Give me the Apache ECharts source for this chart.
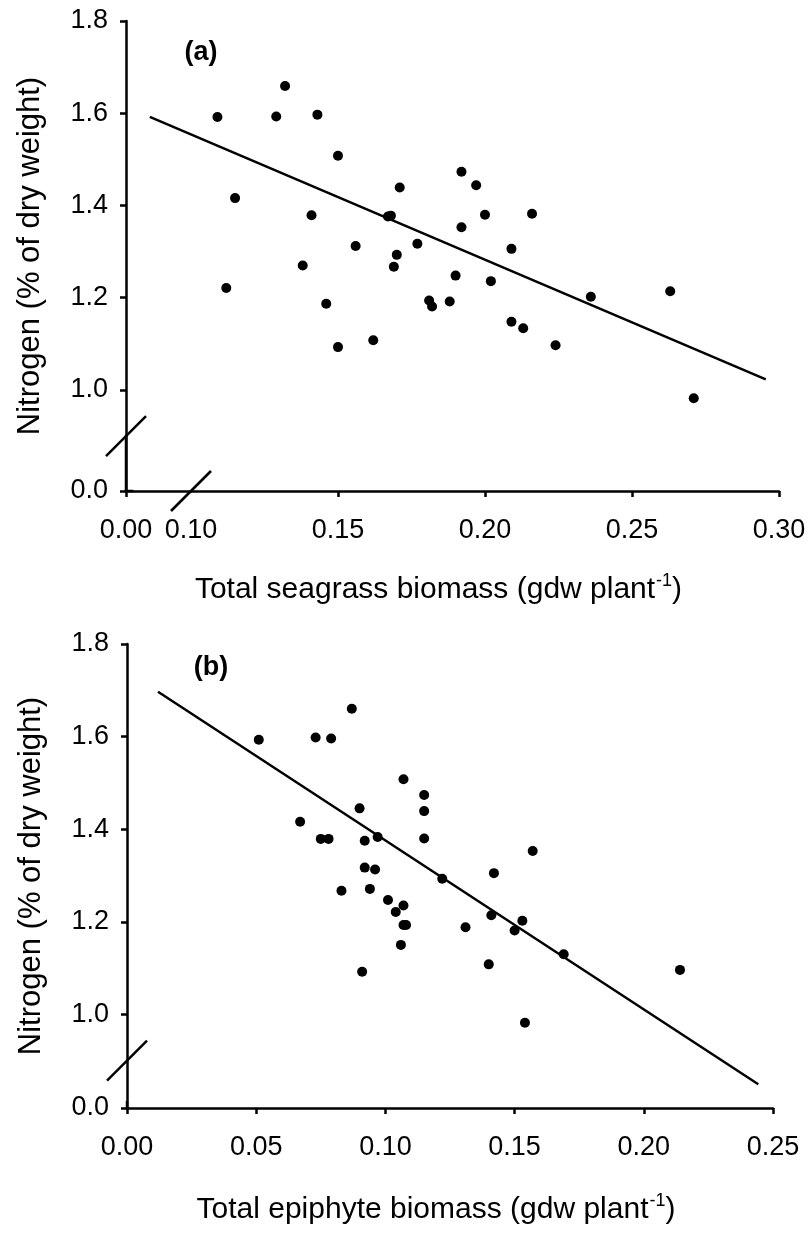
<!DOCTYPE html>
<html>
<head>
<meta charset="utf-8">
<script src="https://cdn.jsdelivr.net/npm/echarts@6.0.0/dist/echarts.min.js"></script>
<style>
  html, body { margin: 0; padding: 0; background: #ffffff; }
  #chart { width: 809px; height: 1233px; }
</style>
</head>
<body>
<div id="chart"></div>
<script>
// (a) Leaf nitrogen against total seagrass biomass
const seagrassBiomass = [
  0.109, 0.132, 0.129, 0.143, 0.150, 0.115, 0.141, 0.156, 0.138, 0.112,
  0.146, 0.167, 0.168, 0.171, 0.169, 0.170, 0.177, 0.192, 0.197, 0.200,
  0.216, 0.192, 0.209, 0.190, 0.202, 0.181, 0.182, 0.188, 0.236, 0.263,
  0.209, 0.213, 0.224, 0.271, 0.150, 0.162
];
const seagrassNitrogen = [
  1.592, 1.659, 1.593, 1.597, 1.508, 1.416, 1.379, 1.312, 1.270, 1.221,
  1.187, 1.376, 1.378, 1.439, 1.267, 1.293, 1.317, 1.473, 1.444, 1.380,
  1.382, 1.353, 1.306, 1.248, 1.236, 1.194, 1.181, 1.192, 1.202, 1.214,
  1.148, 1.134, 1.097, 0.982, 1.093, 1.108
];
const seagrassFitX = [0.086, 0.2955];
const seagrassFitY = [1.592, 1.023];

// (b) Leaf nitrogen against total epiphyte biomass
const epiphyteBiomass = [
  0.051, 0.087, 0.073, 0.079, 0.107, 0.090, 0.067, 0.075, 0.078, 0.092,
  0.097, 0.092, 0.096, 0.083, 0.094, 0.101, 0.107, 0.104, 0.107, 0.108,
  0.106, 0.115, 0.115, 0.115, 0.157, 0.122, 0.142, 0.131, 0.141, 0.153,
  0.150, 0.091, 0.140, 0.169, 0.214, 0.154
];
const epiphyteNitrogen = [
  1.593, 1.660, 1.598, 1.596, 1.508, 1.445, 1.416, 1.379, 1.379, 1.375,
  1.383, 1.317, 1.313, 1.267, 1.271, 1.247, 1.235, 1.221, 1.193, 1.193,
  1.150, 1.474, 1.439, 1.380, 1.353, 1.293, 1.305, 1.188, 1.214, 1.202,
  1.181, 1.092, 1.108, 1.130, 1.096, 0.982
];
const epiphyteFitX = [0.012, 0.2443];
const epiphyteFitY = [1.697, 0.849];

// Tick positions and labels
const seagrassTicks = [0, 0.15, 0.20, 0.25, 0.30];
const seagrassLabels = [0, 0.10, 0.15, 0.20, 0.25, 0.30];
const epiphyteTicks = [0, 0.05, 0.10, 0.15, 0.20, 0.25];
const nitrogenTicks = [0, 1.0, 1.2, 1.4, 1.6, 1.8];

const FONT = 'Liberation Sans, Arial, sans-serif';
const zip = (xs, ys) => xs.map((x, i) => [x, ys[i]]);

const axisLineStyle = { show: true, breakLine: false, lineStyle: { color: '#000', width: 2.5 } };
const tickStyle = { show: true, length: 6, lineStyle: { color: '#000', width: 2.5 } };
const labelBase = { color: '#000', fontFamily: FONT, fontSize: 27 };

function xName(text) {
  return '{t|' + text + '}{s|-1}{t|)}';
}
const xNameStyle = {
  color: '#000',
  fontFamily: FONT,
  padding: [0, 28, 0, 0],
  rich: {
    t: { fontSize: 30, fontFamily: FONT, color: '#000', lineHeight: 35 },
    s: { fontSize: 18, fontFamily: FONT, color: '#000', verticalAlign: 'top', lineHeight: 35, padding: [0, 0, 0, 1] }
  }
};
const yNameStyle = { color: '#000', fontFamily: FONT, fontSize: 31 };

function yAxisFor(gridIndex, brk) {
  return {
    type: 'value',
    gridIndex: gridIndex,
    min: 0,
    max: 1.8,
    breaks: [brk],
    breakArea: { show: false, expandOnClick: false },
    name: 'Nitrogen (% of dry weight)',
    nameLocation: 'middle',
    nameGap: 80,
    nameTextStyle: yNameStyle,
    axisLine: axisLineStyle,
    axisTick: Object.assign({ customValues: nitrogenTicks }, tickStyle),
    axisLabel: Object.assign({
      customValues: nitrogenTicks,
      margin: 18,
      formatter: v => v.toFixed(1)
    }, labelBase),
    splitLine: { show: false }
  };
}

const chart = echarts.init(document.getElementById('chart'), null, { renderer: 'canvas' });

chart.setOption({
  backgroundColor: '#ffffff',
  animation: false,
  grid: [
    { left: 126, top: 21, width: 653, height: 470 },
    { left: 127, top: 644, width: 646, height: 464 }
  ],
  xAxis: [
    {
      type: 'value',
      gridIndex: 0,
      min: 0,
      max: 0.30,
      breaks: [{ start: 0, end: 0.08, gap: 0.0021 }],
      breakArea: { show: false, expandOnClick: false },
      name: xName('Total seagrass biomass (gdw plant'),
      nameLocation: 'middle',
      nameGap: 81,
      nameTextStyle: xNameStyle,
      axisLine: axisLineStyle,
      axisTick: Object.assign({ customValues: seagrassTicks }, tickStyle),
      axisLabel: Object.assign({
        customValues: seagrassLabels,
        margin: 26,
        formatter: v => v.toFixed(2)
      }, labelBase),
      splitLine: { show: false }
    },
    {
      type: 'value',
      gridIndex: 1,
      min: 0,
      max: 0.25,
      name: xName('Total epiphyte biomass (gdw plant'),
      nameLocation: 'middle',
      nameGap: 84,
      nameTextStyle: xNameStyle,
      axisLine: axisLineStyle,
      axisTick: Object.assign({ customValues: epiphyteTicks }, tickStyle),
      axisLabel: Object.assign({
        customValues: epiphyteTicks,
        margin: 26,
        formatter: v => v.toFixed(2)
      }, labelBase),
      splitLine: { show: false }
    }
  ],
  yAxis: [
    yAxisFor(0, { start: 0, end: 0.9, gap: 0.119 }),
    yAxisFor(1, { start: 0, end: 0.81, gap: 0.0123 })
  ],
  series: [
    {
      type: 'scatter',
      xAxisIndex: 0, yAxisIndex: 0,
      data: zip(seagrassBiomass, seagrassNitrogen),
      symbol: 'circle', symbolSize: 10,
      itemStyle: { color: '#000', opacity: 1 }
    },
    {
      type: 'line',
      xAxisIndex: 0, yAxisIndex: 0,
      data: zip(seagrassFitX, seagrassFitY),
      showSymbol: false, symbol: 'none',
      lineStyle: { color: '#000', width: 2.5 }
    },
    {
      type: 'scatter',
      xAxisIndex: 1, yAxisIndex: 1,
      data: zip(epiphyteBiomass, epiphyteNitrogen),
      symbol: 'circle', symbolSize: 10,
      itemStyle: { color: '#000', opacity: 1 }
    },
    {
      type: 'line',
      xAxisIndex: 1, yAxisIndex: 1,
      data: zip(epiphyteFitX, epiphyteFitY),
      showSymbol: false, symbol: 'none',
      lineStyle: { color: '#000', width: 2.5 }
    }
  ]
});

// Slash marks on the broken axes, and the axis line carried through each break
function px(gridIndex, value) {
  return chart.convertToPixel({ gridIndex: gridIndex }, value);
}
function slash(gridIndex, value, half) {
  const p = px(gridIndex, value);
  return {
    type: 'line',
    shape: { x1: p[0] - half, y1: p[1] + half, x2: p[0] + half, y2: p[1] - half },
    style: { stroke: '#000', lineWidth: 2.5 },
    z: 100
  };
}
function bridge(gridIndex, from, to) {
  const a = px(gridIndex, from);
  const b = px(gridIndex, to);
  return {
    type: 'line',
    shape: { x1: a[0], y1: a[1], x2: b[0], y2: b[1] },
    style: { stroke: '#000', lineWidth: 2.5, lineCap: 'square' },
    z: 90
  };
}
const letterStyle = { fill: '#000', font: 'bold 27px ' + FONT, textAlign: 'center', textVerticalAlign: 'middle' };

chart.setOption({
  graphic: [
    bridge(0, [0, 0], [0, 0.9]),
    bridge(0, [0, 0], [0.08, 0]),
    bridge(1, [0, 0], [0, 0.81]),
    slash(0, [0, 0.9], 20),
    slash(0, [0.10, 0], 20),
    slash(1, [0, 0.9], 20),
    { type: 'text', x: 201, y: 53, style: Object.assign({ text: '(a)' }, letterStyle), z: 100 },
    { type: 'text', x: 211, y: 668, style: Object.assign({ text: '(b)' }, letterStyle), z: 100 }
  ]
});
</script>
</body>
</html>
